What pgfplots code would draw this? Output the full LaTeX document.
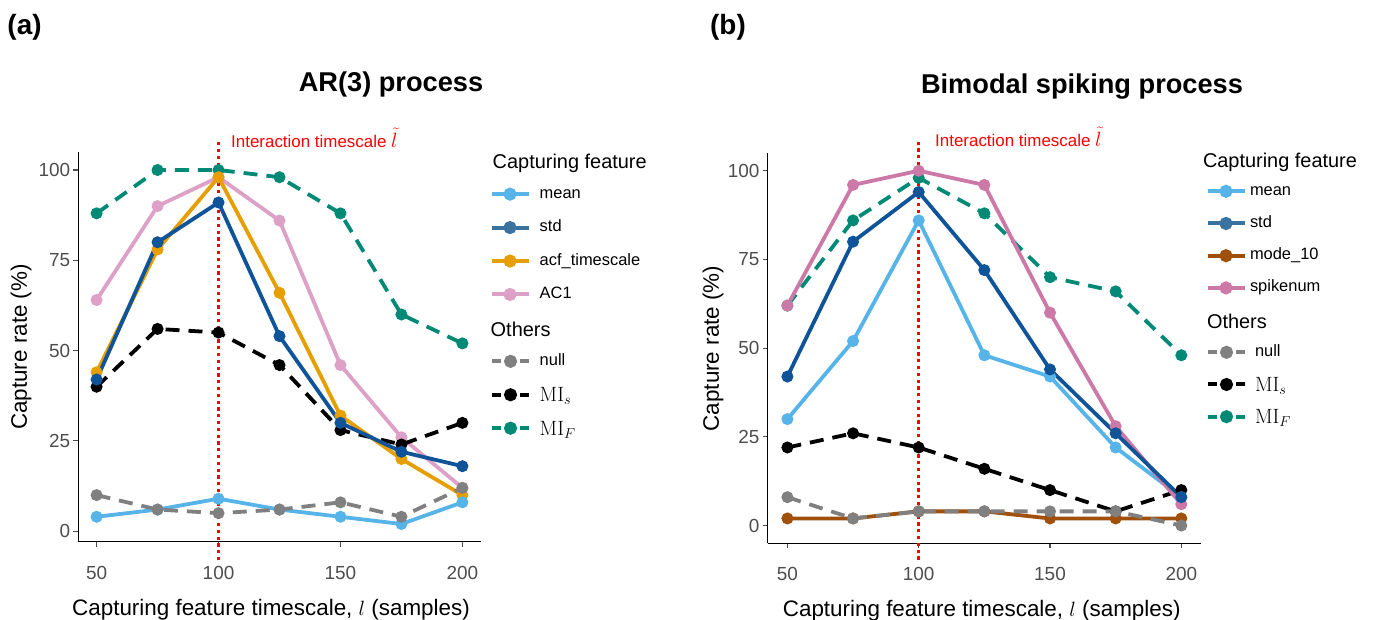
\documentclass[border=0pt]{standalone}
\usepackage{pgfplots}
\pgfplotsset{compat=1.18}
\usepackage[no-math]{fontspec}
\setmainfont{Liberation Sans}
\definecolor{cmean}{HTML}{56B4E9}
\definecolor{cstd}{HTML}{0F5499}
\definecolor{cstdkey}{HTML}{3A739F}
\definecolor{cacf}{HTML}{E69F00}
\definecolor{cac1}{HTML}{DDA0C6}
\definecolor{cspike}{HTML}{CC79A7}
\definecolor{cmode}{HTML}{A0500A}
\definecolor{cnull}{HTML}{808080}
\definecolor{cmif}{HTML}{008A76}
\definecolor{tickgray}{HTML}{4D4D4D}
\definecolor{pured}{RGB}{255,0,0}
\pgfplotsset{
  panel/.style={
    scale only axis,
    axis x line*=bottom, axis y line*=left,
    axis line style={line width=1.1bp, black},
    every tick/.style={line width=1.1bp, tickgray},
    tick align=outside,
    major tick length=5bp,
    xtick={50,100,150,200}, ytick={0,25,50,75,100},
    xmin=42.5, xmax=207.5,
    ticklabel style={font=\fontsize{19}{19}\selectfont, text=tickgray, inner sep=0pt},
    /pgf/number format/assume math mode=true,
    xticklabel style={anchor=north, yshift=-19bp},
    yticklabel style={anchor=east, xshift=-3bp},
    clip=false,
    legend cell align=left,
    legend style={draw=none, fill=none, inner sep=0pt, outer sep=0pt,
      column sep=7.7bp,
      nodes={inner sep=0pt, text height=12bp, text depth=4bp,
             font=\fontsize{16.5}{16.5}\selectfont}},
  },
  ln/.style={line width=3.8bp, mark=*, mark size=4bp, mark options={solid}, forget plot},
  dl/.style={ln, dash pattern=on 14bp off 9bp},
  solidkey/.style={line width=4bp, mark=*, mark size=4.5bp, mark options={solid},
    legend image code/.code={
      \path (0bp,0bp) -- (37bp,0bp);
      \draw[mark repeat=2, mark phase=2] plot coordinates {(5bp,0bp) (18bp,0bp) (31bp,0bp)};}},
  dashkey/.style={line width=4bp, mark=*, mark size=4.5bp, mark options={solid},
    dash pattern=on 9bp off 19bp,
    legend image code/.code={
      \draw[mark repeat=2, mark phase=2] plot coordinates {(0bp,0bp) (18.5bp,0bp) (37bp,0bp)};}},
  redline/.style={color=pured, line width=3bp, dash pattern=on 3.2bp off 3.6bp, forget plot},
}
\newcommand{\ttl}[1]{\raisebox{-4.2bp}{\fontsize{20}{20}\selectfont #1}}
\newcommand{\mlab}[1]{\raisebox{-3bp}{\fontsize{21}{21}\selectfont $#1$}}
\begin{document}
\begin{tikzpicture}
\useasboundingbox (0,0) rectangle (1380bp,620bp);
% ---------------- panel (a)
\begin{axis}[panel, at={(78.3bp,78.3bp)}, anchor=south west,
  width=402.4bp, height=389.4bp, ymin=-2.9, ymax=104.9,
  legend style={at={(1.0232,0.99897)}, anchor=north west, row sep=17.44bp}]
\addplot[ln, cac1] coordinates {(50,64)(75,90)(100,98)(125,86)(150,46)(175,26)(200,12)};
\addplot[dl, cmif] coordinates {(50,88)(75,100)(100,100)(125,98)(150,88)(175,60)(200,52)};
\addplot[dl, black] coordinates {(50,40)(75,56)(100,55)(125,46)(150,28)(175,24)(200,30)};
\addplot[ln, cacf] coordinates {(50,44)(75,78)(100,98)(125,66)(150,32)(175,20)(200,10)};
\addplot[ln, cmean] coordinates {(50,4)(75,6)(100,9)(125,6)(150,4)(175,2)(200,8)};
\addplot[dl, cnull] coordinates {(50,10)(75,6)(100,5)(125,6)(150,8)(175,4)(200,12)};
\addplot[ln, cstd] coordinates {(50,42)(75,80)(100,91)(125,54)(150,30)(175,22)(200,18)};
\addplot[redline] coordinates {(100,-8)(100,108.3)};
\addlegendimage{empty legend}\addlegendentry{\hspace*{-46bp}\ttl{Capturing feature}}
\addlegendimage{solidkey, cmean}\addlegendentry{\hspace*{1bp}mean}
\addlegendimage{solidkey, cstdkey}\addlegendentry{\hspace*{1bp}std}
\addlegendimage{solidkey, cacf}\addlegendentry{\hspace*{1bp}acf\_timescale}
\addlegendimage{solidkey, cac1}\addlegendentry{\hspace*{1bp}AC1}
\addlegendimage{empty legend}\addlegendentry{\hspace*{-48bp}\ttl{Others}}
\addlegendimage{dashkey, cnull}\addlegendentry{\hspace*{1bp}null}
\addlegendimage{dashkey, black}\addlegendentry{\hspace*{1bp}\mlab{\mathrm{MI}_s}}
\addlegendimage{dashkey, cmif}\addlegendentry{\hspace*{1bp}\mlab{\mathrm{MI}_F}}
\end{axis}
% ---------------- panel (b)
\begin{axis}[panel, at={(767.7bp,76.7bp)}, anchor=south west,
  width=433.3bp, height=390.3bp, ymin=-5, ymax=105,
  legend style={at={(1.01154,1.00487)}, anchor=north west, row sep=16.2bp, column sep=7bp}]
\addplot[dl, cmif] coordinates {(50,62)(75,86)(100,98)(125,88)(150,70)(175,66)(200,48)};
\addplot[dl, black] coordinates {(50,22)(75,26)(100,22)(125,16)(150,10)(175,4)(200,10)};
\addplot[ln, cmean] coordinates {(50,30)(75,52)(100,86)(125,48)(150,42)(175,22)(200,8)};
\addplot[ln, cmode] coordinates {(50,2)(75,2)(100,4)(125,4)(150,2)(175,2)(200,2)};
\addplot[dl, cnull] coordinates {(50,8)(75,2)(100,4)(125,4)(150,4)(175,4)(200,0)};
\addplot[ln, cspike] coordinates {(50,62)(75,96)(100,100)(125,96)(150,60)(175,28)(200,6)};
\addplot[ln, cstd] coordinates {(50,42)(75,80)(100,94)(125,72)(150,44)(175,26)(200,8)};
\addplot[redline] coordinates {(100,-9.6)(100,108.7)};
\addlegendimage{empty legend}\addlegendentry{\hspace*{-51bp}\ttl{Capturing feature}}
\addlegendimage{solidkey, cmean}\addlegendentry{\hspace*{-4bp}mean}
\addlegendimage{solidkey, cstdkey}\addlegendentry{\hspace*{-4bp}std}
\addlegendimage{solidkey, cmode}\addlegendentry{\hspace*{-4bp}mode\_10}
\addlegendimage{solidkey, cspike}\addlegendentry{\hspace*{-4bp}spikenum}
\addlegendimage{empty legend}\addlegendentry{\hspace*{-47bp}\ttl{Others}}
\addlegendimage{dashkey, cnull}\addlegendentry{\hspace*{1bp}null}
\addlegendimage{dashkey, black}\addlegendentry{\hspace*{1bp}\mlab{\mathrm{MI}_s}}
\addlegendimage{dashkey, cmif}\addlegendentry{\hspace*{1bp}\mlab{\mathrm{MI}_F}}
\end{axis}
% ---------------- texts
\node[anchor=base west, inner sep=0pt, font=\fontsize{28}{28}\selectfont\bfseries] at (7.3bp,585bp) {(a)};
\node[anchor=base west, inner sep=0pt, font=\fontsize{28}{28}\selectfont\bfseries] at (710bp,585bp) {(b)};
\node[anchor=base, inner sep=0pt, font=\fontsize{27.3}{27.3}\selectfont\bfseries] at (391bp,528.3bp) {AR(3) process};
\node[anchor=base, inner sep=0pt, font=\fontsize{27.3}{27.3}\selectfont\bfseries] at (1082bp,526.5bp) {Bimodal spiking process};
\node[anchor=west, inner sep=0pt, text=pured, font=\fontsize{17}{17}\selectfont] at (231bp,482bp) {Interaction timescale {\fontsize{20}{20}\selectfont$\tilde{l}$}};
\node[anchor=west, inner sep=0pt, text=pured, font=\fontsize{17}{17}\selectfont] at (935bp,483bp) {Interaction timescale {\fontsize{20}{20}\selectfont$\tilde{l}$}};
\node[rotate=90, inner sep=0pt, font=\fontsize{22.5}{22.5}\selectfont] at (21bp,273bp) {Capture rate (\%)};
\node[rotate=90, inner sep=0pt, font=\fontsize{22.5}{22.5}\selectfont] at (713bp,271.5bp) {Capture rate (\%)};
\node[anchor=base, inner sep=0pt, font=\fontsize{22.5}{22.5}\selectfont] at (271bp,5bp) {Capturing feature timescale, $l$ (samples)};
\node[anchor=base, inner sep=0pt, font=\fontsize{22.5}{22.5}\selectfont] at (981.7bp,4bp) {Capturing feature timescale, $l$ (samples)};
\end{tikzpicture}
\end{document}
